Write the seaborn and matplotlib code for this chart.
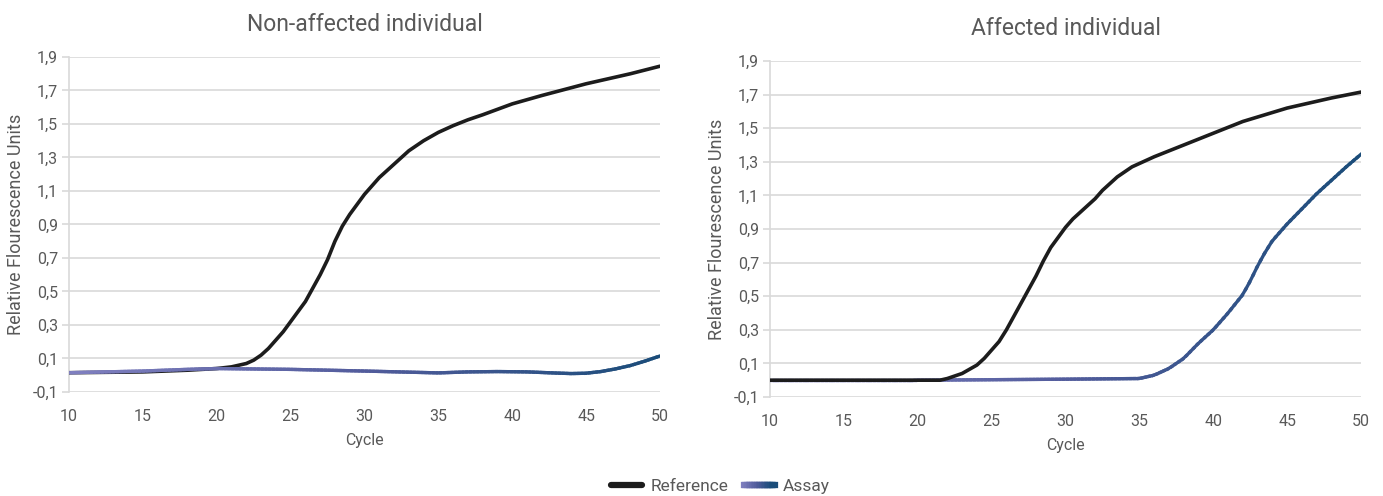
import numpy as np
import pandas as pd
import matplotlib
matplotlib.use("Agg")
import matplotlib.pyplot as plt
import seaborn as sns
from matplotlib.collections import LineCollection
from matplotlib.colors import LinearSegmentedColormap
from matplotlib.legend_handler import HandlerBase
from matplotlib.lines import Line2D

# ---------------- data ----------------
titles = ["Non-affected individual", "Affected individual"]
series_names = ["Reference", "Assay"]

# Non-affected individual
na_ref_x = [10, 15, 18, 20, 21, 22, 22.5, 23, 23.5, 24, 24.5, 25, 25.5, 26, 26.5, 27, 27.5,
            28, 28.5, 29, 29.5, 30, 30.5, 31, 32, 33, 34, 35, 36, 37, 38, 40, 42, 45, 48, 50]
na_ref_y = [0.015, 0.02, 0.03, 0.04, 0.05, 0.07, 0.09, 0.12, 0.16, 0.21, 0.26, 0.32, 0.38,
            0.44, 0.52, 0.60, 0.69, 0.80, 0.89, 0.96, 1.02, 1.08, 1.13, 1.18, 1.26, 1.34,
            1.40, 1.45, 1.49, 1.525, 1.555, 1.62, 1.67, 1.74, 1.80, 1.845]
na_assay_x = [10, 15, 18, 20, 25, 30, 35, 37, 39, 41, 43, 44, 45, 46, 47, 48, 49, 50]
na_assay_y = [0.015, 0.025, 0.035, 0.04, 0.035, 0.025, 0.014, 0.02, 0.022, 0.02, 0.013,
              0.01, 0.012, 0.022, 0.038, 0.058, 0.085, 0.115]

# Affected individual
a_ref_x = [10, 15, 20, 21.5, 22, 23, 24, 24.5, 25, 25.5, 26, 26.5, 27, 27.5, 28, 28.5, 29,
           29.5, 30, 30.5, 31, 31.5, 32, 32.5, 33, 33.5, 34, 34.5, 35, 36, 38, 40, 42, 45,
           48, 50]
a_ref_y = [0.0, 0.0, 0.0, 0.0, 0.01, 0.04, 0.09, 0.13, 0.18, 0.23, 0.30, 0.38, 0.46, 0.54,
           0.62, 0.71, 0.79, 0.85, 0.91, 0.96, 1.00, 1.04, 1.08, 1.13, 1.17, 1.21, 1.24,
           1.27, 1.29, 1.33, 1.40, 1.47, 1.54, 1.62, 1.68, 1.715]
a_assay_x = [10, 15, 20, 25, 30, 35, 36, 37, 37.5, 38, 38.5, 39, 39.5, 40, 40.5, 41, 41.5,
             42, 42.5, 43, 43.5, 44, 44.5, 45, 46, 47, 48, 49, 50]
a_assay_y = [0.0, 0.0, 0.0, 0.003, 0.006, 0.01, 0.03, 0.07, 0.10, 0.13, 0.175, 0.22, 0.26,
             0.30, 0.35, 0.40, 0.455, 0.51, 0.59, 0.68, 0.76, 0.83, 0.88, 0.93, 1.02, 1.11,
             1.19, 1.27, 1.345]

x_ticks = [10, 15, 20, 25, 30, 35, 40, 45, 50]
y_ticks = [-0.1, 0.1, 0.3, 0.5, 0.7, 0.9, 1.1, 1.3, 1.5, 1.7, 1.9]
y_tick_labels = ["-0,1", "0,1", "0,3", "0,5", "0,7", "0,9", "1,1", "1,3", "1,5", "1,7", "1,9"]
x_label = "Cycle"
y_label = "Relative Flourescence Units"

# ---------------- style ----------------
sns.set_theme(style="white")
plt.rcParams["font.family"] = ["Roboto", "DejaVu Sans"]

TEXT = "#595959"
GRID = "#d9d9d9"
REF_COLOR = "#1c1c1c"
assay_cmap = LinearSegmentedColormap.from_list("assay", ["#8080c0", "#525c9c", "#1a4c79"])

fig = plt.figure(figsize=(13.83, 4.96), dpi=100)
ax_l = fig.add_axes([0.0499, 0.2097, 0.4273, 0.6754])
ax_r = fig.add_axes([0.5568, 0.1996, 0.4273, 0.6774])

panels = [
    (ax_l, titles[0], na_ref_x, na_ref_y, na_assay_x, na_assay_y, True),
    (ax_r, titles[1], a_ref_x, a_ref_y, a_assay_x, a_assay_y, False),
]


def gradient_line(ax, line, zorder):
    xy = line.get_xydata()
    xs = np.linspace(xy[0, 0], xy[-1, 0], 160)
    ys = np.interp(xs, xy[:, 0], xy[:, 1])
    pts = np.column_stack([xs, ys]).reshape(-1, 1, 2)
    segs = np.concatenate([pts[:-1], pts[1:]], axis=1)
    lc = LineCollection(segs, cmap=assay_cmap, linewidth=2.4, capstyle="projecting",
                        joinstyle="round", zorder=zorder, antialiased=True)
    lc.set_array((xs[:-1] - 10) / 40.0)
    lc.set_clim(0, 1)
    ax.add_collection(lc)
    line.remove()


for ax, title, rx, ry, axx, ayy, assay_on_top in panels:
    df_ref = pd.DataFrame({"Cycle": rx, "RFU": ry})
    df_as = pd.DataFrame({"Cycle": axx, "RFU": ayy})
    sns.lineplot(data=df_ref, x="Cycle", y="RFU", ax=ax, color=REF_COLOR, linewidth=2.6,
                 zorder=4 if not assay_on_top else 3, solid_capstyle="round",
                 solid_joinstyle="round")
    sns.lineplot(data=df_as, x="Cycle", y="RFU", ax=ax, color="#525c9c", linewidth=2.4)
    gradient_line(ax, ax.lines[-1], zorder=4 if assay_on_top else 3)

    ax.set_xlim(10, 50)
    ax.set_ylim(-0.1, 1.9)
    ax.set_xticks(x_ticks)
    ax.set_xticklabels([str(t) for t in x_ticks])
    ax.set_yticks(y_ticks)
    ax.set_yticklabels(y_tick_labels)
    ax.yaxis.grid(True, color=GRID, linewidth=1.2)
    ax.xaxis.grid(False)
    for s in ["top", "right", "bottom"]:
        ax.spines[s].set_visible(False)
    ax.spines["left"].set_color(GRID)
    ax.spines["left"].set_linewidth(1.2)
    ax.tick_params(axis="y", left=True, length=5, width=1.2, color=GRID,
                   labelsize=11.5, labelcolor=TEXT, pad=3)
    ax.tick_params(axis="x", bottom=False, labelsize=11.5, labelcolor=TEXT, pad=6)
    ax.set_xlabel(x_label, fontsize=11.5, color=TEXT, labelpad=7)
    ax.set_ylabel(y_label, fontsize=13, color=TEXT, labelpad=5)
    ax.set_title(title, fontsize=16.5, color=TEXT, pad=19)
    ax.set_axisbelow(True)


class GradientHandler(HandlerBase):
    def create_artists(self, legend, orig_handle, xdescent, ydescent, width, height,
                       fontsize, trans):
        xs = np.linspace(0, width, 20) - xdescent
        y = height / 2.0 - ydescent
        pts = np.column_stack([xs, np.full_like(xs, y)]).reshape(-1, 1, 2)
        segs = np.concatenate([pts[:-1], pts[1:]], axis=1)
        lc = LineCollection(segs, cmap=assay_cmap, linewidth=4.5, transform=trans,
                            capstyle="projecting")
        lc.set_array(np.linspace(0, 1, len(segs)))
        lc.set_clim(0, 1)
        return [lc]


ref_handle = Line2D([], [], color=REF_COLOR, linewidth=4.5)
assay_handle = Line2D([], [], color="#525c9c", linewidth=4.5)
fig.legend([ref_handle, assay_handle], series_names, loc="center",
           bbox_to_anchor=(0.521, 0.02), ncol=2, frameon=False, fontsize=12.5,
           labelcolor=TEXT, handlelength=1.8, handletextpad=0.45, columnspacing=0.9,
           handler_map={assay_handle: GradientHandler()})

fig.savefig("out.png", dpi=100)
